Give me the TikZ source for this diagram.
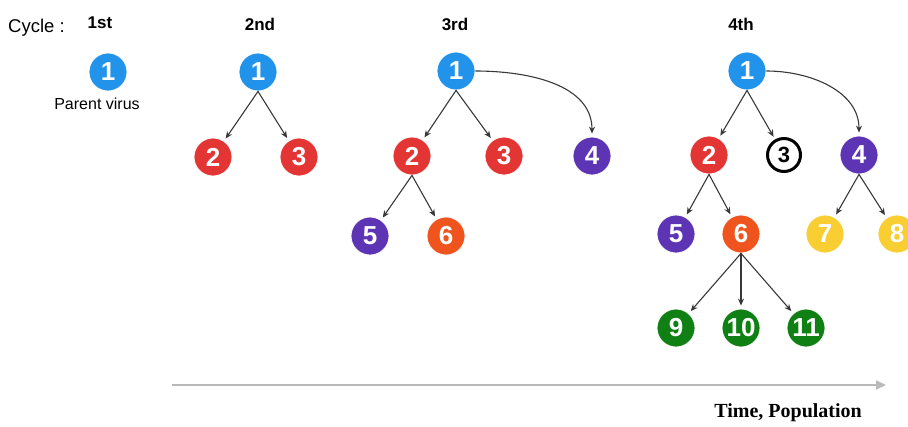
\documentclass[tikz,border=0pt]{standalone}
\usepackage{fontspec}
\setmainfont{Liberation Sans}
\newfontfamily\serifbold{Liberation Serif}
\usetikzlibrary{arrows.meta}
\definecolor{cblue}{RGB}{33,147,235}
\definecolor{cred}{RGB}{226,53,52}
\definecolor{cpurple}{RGB}{92,52,180}
\definecolor{corange}{RGB}{240,84,30}
\definecolor{cyellow}{RGB}{248,206,50}
\definecolor{cgreen}{RGB}{16,128,20}
\definecolor{cgray}{RGB}{185,185,185}
\tikzset{
  vnode/.style={circle, minimum size=38pt, inner sep=0pt, draw=white, line width=0.8pt,
    text=white, font=\fontsize{26}{26}\selectfont\bfseries},
  vblue/.style={vnode, fill=cblue},
  vred/.style={vnode, fill=cred},
  vpurple/.style={vnode, fill=cpurple},
  vorange/.style={vnode, fill=corange},
  vyellow/.style={vnode, fill=cyellow},
  vgreen/.style={vnode, fill=cgreen},
  vdead/.style={circle, minimum size=33pt, inner sep=0pt, draw=black, line width=3pt, fill=white,
    text=black, font=\fontsize{22}{22}\selectfont\bfseries},
  link/.style={draw=black!78, line width=1.1pt, -{Stealth[length=7pt,width=6pt]}, shorten >=3pt},
  cyclelbl/.style={font=\fontsize{17}{18}\selectfont\bfseries},
}
\begin{document}
\begin{tikzpicture}[x=1pt,y=-1pt]
\useasboundingbox (0,0) rectangle (908,426);
% header
\node[font=\fontsize{18.5}{19}\selectfont, anchor=west, inner sep=0pt] (cyc) at (8,28) {Cycle :};
\node[cyclelbl] (h1) at (100,23) {1st};
\node[cyclelbl] (h2) at (260,24) {2nd};
\node[cyclelbl] (h3) at (455,24) {3rd};
\node[cyclelbl] (h4) at (741,24) {4th};
% cycle 1
\node[vblue] (a1) at (108,72) {1};
\node[font=\fontsize{16}{17}\selectfont] (pv) at (97,104) {Parent virus};
% cycle 2
\node[vblue] (b1) at (258,72) {1};
\node[vred] (b2) at (213,157) {2};
\node[vred] (b3) at (299,157) {3};
\draw[link] (b1.south) -- (b2);
\draw[link] (b1.south) -- (b3);
% cycle 3
\node[vblue] (c1) at (456,71) {1};
\node[vred] (c2) at (412,156) {2};
\node[vred] (c3) at (504,156) {3};
\node[vpurple] (c4) at (592,156) {4};
\node[vpurple] (c5) at (370,236) {5};
\node[vorange] (c6) at (446,236) {6};
\draw[link] (c1.south) -- (c2);
\draw[link] (c1.south) -- (c3);
\draw[link] (c1.east) to[out=0,in=90] (c4.north);
\draw[link] (c2.south) -- (c5);
\draw[link] (c2.south) -- (c6);
% cycle 4
\node[vblue] (d1) at (747,71) {1};
\node[vred] (d2) at (709,155) {2};
\node[vdead] (d3) at (784,155) {3};
\node[vpurple] (d4) at (859,155) {4};
\node[vpurple] (d5) at (676,234) {5};
\node[vorange] (d6) at (741,234) {6};
\node[vyellow] (d7) at (825,234) {7};
\node[vyellow] (d8) at (897,234) {8};
\node[vgreen] (d9) at (676,328) {9};
\node[vgreen] (d10) at (741,328) {10};
\node[vgreen] (d11) at (806,328) {11};
\draw[link] (d1.south) -- (d2);
\draw[link] (d1.south) -- (d3);
\draw[link] (d1.east) to[out=0,in=90] (d4.north);
\draw[link] (d2.south) -- (d5);
\draw[link] (d2.south) -- (d6);
\draw[link] (d4.south) -- (d7);
\draw[link] (d4.south) -- (d8);
\draw[link] (d6.south) -- (d9);
\draw[link] (d6.south) -- (d10);
\draw[link] (d6.south) -- (d11);
% time axis
\coordinate (t0) at (172,385);
\coordinate (t1) at (886,385);
\draw[cgray, line width=2pt, -{Triangle[length=10pt,width=9pt]}] (t0) -- (t1);
\node[font=\serifbold\fontsize{20}{21}\selectfont\bfseries, anchor=east, inner sep=0pt] (tp) at (862,413) {Time, Population};
\end{tikzpicture}
\end{document}
